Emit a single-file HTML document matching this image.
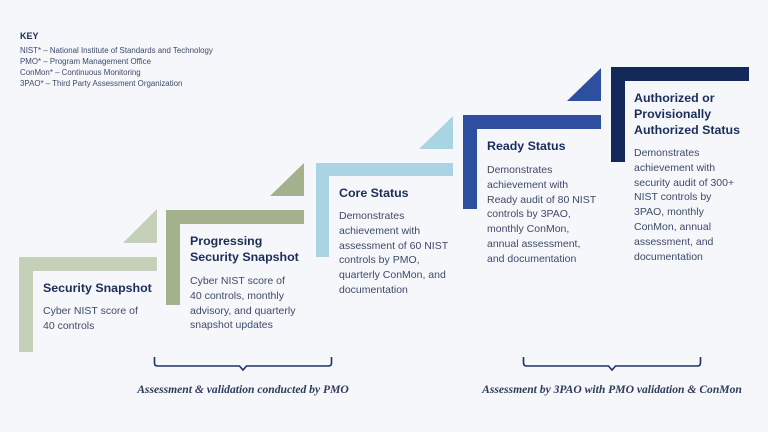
<!DOCTYPE html>
<html><head><meta charset="utf-8"><style>
body{margin:0;width:768px;height:432px;background:#f5f7fa;position:relative;overflow:hidden;font-family:"Liberation Sans",sans-serif;color:#3d4a6b}
.t{position:absolute;font-weight:bold;color:#1a2d5a;font-size:12.4px;line-height:16px;white-space:nowrap}
.b{position:absolute;font-size:10.5px;line-height:14.8px;white-space:nowrap;color:#3d4a6b}
.k{position:absolute;left:20px;font-size:7.9px;line-height:11px;white-space:nowrap;color:#3d4a6b}
.lab{position:absolute;font-family:"Liberation Serif",serif;font-style:italic;font-weight:bold;font-size:11.6px;color:#2d3b5e;white-space:nowrap;transform:translateX(-50%)}
</style></head><body>
<svg width="768" height="432" style="position:absolute;left:0;top:0">
<g fill="#c5d0b8"><rect x="19" y="257" width="138" height="14"/><rect x="19" y="257" width="14" height="95"/><polygon points="123,243 157,243 157,209"/></g>
<g fill="#a3b18c"><rect x="166" y="210" width="138" height="14"/><rect x="166" y="210" width="14" height="95"/><polygon points="270,196 304,196 304,163"/></g>
<g fill="#a8d4e4"><rect x="316" y="163" width="137" height="13"/><rect x="316" y="163" width="13" height="94"/><polygon points="419,149 453,149 453,116"/></g>
<g fill="#2e4f9f"><rect x="463" y="115" width="138" height="14"/><rect x="463" y="115" width="14" height="94"/><polygon points="567,101 601,101 601,68"/></g>
<g fill="#13295a"><rect x="611" y="67" width="138" height="14"/><rect x="611" y="67" width="14" height="95"/></g>
<g fill="none" stroke="#1f3461" stroke-width="1.6">
<path d="M154.5,357 v6 q0,3 3,3 h82 l3.5,4 l3.5,-4 h82 q3,0 3,-3 v-6"/>
<path d="M523.5,357 v6 q0,3 3,3 h82 l3.5,4 l3.5,-4 h82 q3,0 3,-3 v-6"/>
</g>
</svg>
<div class="k" style="top:31px;font-weight:bold;font-size:9px;color:#1a2d5a">KEY</div>
<div class="k" style="top:45px">NIST* – National Institute of Standards and Technology</div>
<div class="k" style="top:56px">PMO* – Program Management Office</div>
<div class="k" style="top:67px">ConMon* – Continuous Monitoring</div>
<div class="k" style="top:78px">3PAO* – Third Party Assessment Organization</div>

<div class="t" style="left:43px;top:280px">Security Snapshot</div>
<div class="b" style="left:43px;top:304px">Cyber NIST score of<br>40 controls</div>

<div class="t" style="left:190px;top:233px">Progressing<br>Security Snapshot</div>
<div class="b" style="left:190px;top:274px">Cyber NIST score of<br>40 controls, monthly<br>advisory, and quarterly<br>snapshot updates</div>

<div class="t" style="left:339px;top:185px">Core Status</div>
<div class="b" style="left:339px;top:209px">Demonstrates<br>achievement with<br>assessment of 60 NIST<br>controls by PMO,<br>quarterly ConMon, and<br>documentation</div>

<div class="t" style="left:487px;top:138px">Ready Status</div>
<div class="b" style="left:487px;top:163px">Demonstrates<br>achievement with<br>Ready audit of 80 NIST<br>controls by 3PAO,<br>monthly ConMon,<br>annual assessment,<br>and documentation</div>

<div class="t" style="left:634px;top:90px">Authorized or<br>Provisionally<br>Authorized Status</div>
<div class="b" style="left:634px;top:146px">Demonstrates<br>achievement with<br>security audit of 300+<br>NIST controls by<br>3PAO, monthly<br>ConMon, annual<br>assessment, and<br>documentation</div>

<div class="lab" style="left:243px;top:383px">Assessment &amp; validation conducted by PMO</div>
<div class="lab" style="left:612px;top:383px">Assessment by 3PAO with PMO validation &amp; ConMon</div>
</body></html>
